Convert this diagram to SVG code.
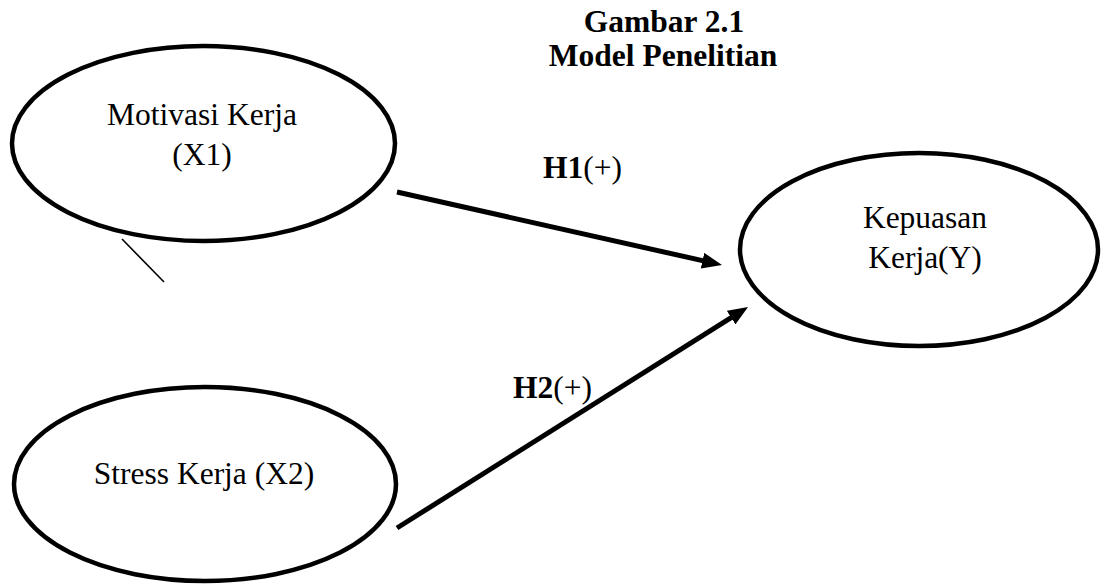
<svg xmlns="http://www.w3.org/2000/svg" width="1101" height="584" viewBox="0 0 1101 584">
<style>
.node ellipse{fill:#fff;stroke:#000;stroke-width:4.5}
text{font-family:"Liberation Serif","Times New Roman",serif;font-size:31.5px;fill:#000}
.c{text-anchor:middle}
.b{font-weight:bold}
.conn line.arrow{stroke:#000;stroke-width:5}
</style>
<defs>
<marker id="ah" markerUnits="userSpaceOnUse" viewBox="0 0 20 16" markerWidth="20" markerHeight="16" refX="8" refY="8" orient="auto">
<path d="M0,0 L20,8 L0,16 z" fill="#000"/>
</marker>
</defs>
<rect width="1101" height="584" fill="#fff"/>
<g id="title">
<text class="c b" x="664" y="32">Gambar 2.1</text>
<text class="c b" x="663" y="66">Model Penelitian</text>
</g>
<g id="connectors" class="conn">
<line x1="122" y1="239" x2="164" y2="282" stroke="#000" stroke-width="1.6"/>
<line class="arrow" x1="397" y1="192" x2="710.3" y2="262.4" marker-end="url(#ah)"/>
<line class="arrow" x1="397" y1="528" x2="737.9" y2="313.4" marker-end="url(#ah)"/>
<text x="543" y="178"><tspan class="b">H1</tspan>(+)</text>
<text x="513" y="398"><tspan class="b">H2</tspan>(+)</text>
</g>
<g id="node-x1" class="node">
<ellipse cx="203.5" cy="143.5" rx="191.5" ry="97.5"/>
<text class="c" x="202" y="125">Motivasi Kerja</text>
<text class="c" x="202" y="165">(X1)</text>
</g>
<g id="node-y" class="node">
<ellipse cx="919" cy="249.5" rx="179" ry="96.5"/>
<text class="c" x="925" y="228">Kepuasan</text>
<text class="c" x="925" y="268">Kerja(Y)</text>
</g>
<g id="node-x2" class="node">
<ellipse cx="205" cy="484" rx="191" ry="97"/>
<text class="c" x="204" y="484">Stress Kerja (X2)</text>
</g>
</svg>
